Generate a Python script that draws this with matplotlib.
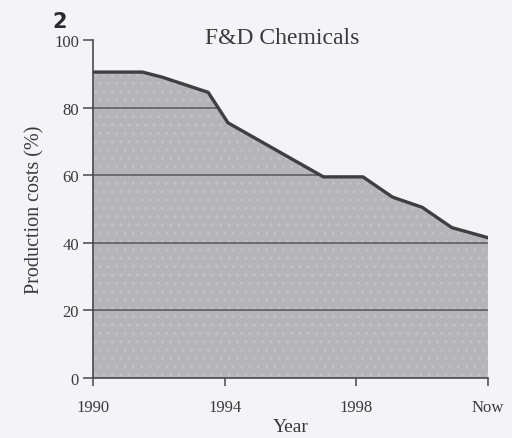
import matplotlib
matplotlib.use("Agg")
import matplotlib.pyplot as plt

# Production costs of F&D Chemicals, 1990 to now (% of 1990 base)
years = [1990, 1991.5, 1992.1, 1993.5, 1994.1, 1997.0, 1998.2, 1999.1, 2000.0, 2000.9, 2002]
costs = [90.5, 90.5, 89.0, 84.5, 75.5, 59.5, 59.5, 53.5, 50.5, 44.5, 41.5]
tick_years = [1990, 1994, 1998, 2002]
tick_labels = ["1990", "1994", "1998", "Now"]
y_ticks = [0, 20, 40, 60, 80, 100]

plt.rcParams["font.family"] = ["Liberation Serif", "DejaVu Serif"]
plt.rcParams["hatch.linewidth"] = 1.2

ink = "#3a3a3c"
paper = "#f4f4f6"

fig = plt.figure(figsize=(5.12, 4.39), dpi=100, facecolor=paper)
ax = fig.add_axes([0.1816, 0.1367, 0.7715, 0.770])
ax.set_facecolor(paper)

# shaded area under the curve, with a light stipple
area = ax.fill_between(years, costs, 0, facecolor="#b4b4b9", edgecolor="#c0c0c5",
                       hatch="..", linewidth=0, zorder=1)
ax.plot(years, costs, color="#3f3f42", linewidth=2.4, solid_joinstyle="round", zorder=3)

# horizontal rules only inside the shaded area
clip = area.get_paths()[0]
for y in y_ticks[1:-1]:
    ln = ax.axhline(y, color="#56565a", linewidth=1.1, zorder=2)
    ln.set_clip_path(clip, area.get_transform())

ax.set_xlim(1990, 2002)
ax.set_ylim(0, 100)
ax.set_xticks(tick_years)
ax.set_xticklabels(tick_labels)
ax.set_yticks(y_ticks)

for s in ["top", "right"]:
    ax.spines[s].set_visible(False)
for s in ["left", "bottom"]:
    ax.spines[s].set_color("#4a4a4e")
    ax.spines[s].set_linewidth(1.2)

ax.tick_params(axis="y", direction="out", length=7, width=1.1, color="#4a4a4e",
               labelsize=12, labelcolor=ink, pad=3)
ax.tick_params(axis="x", direction="out", length=6, width=1.1, color="#4a4a4e",
               labelsize=12, labelcolor=ink, pad=9)

ax.set_xlabel("Year", fontsize=14, color=ink, labelpad=2)
ax.set_ylabel("Production costs (%)", fontsize=14.5, color=ink, labelpad=7)

fig.text(0.40, 0.912, "F&D Chemicals", fontsize=17, color=ink, va="center", ha="left")
fig.text(0.116, 0.950, "2", fontsize=15, fontweight="bold", color="#2a2a2c",
         family="DejaVu Sans", va="center", ha="center")

fig.savefig("out.png", dpi=100, facecolor=paper)
